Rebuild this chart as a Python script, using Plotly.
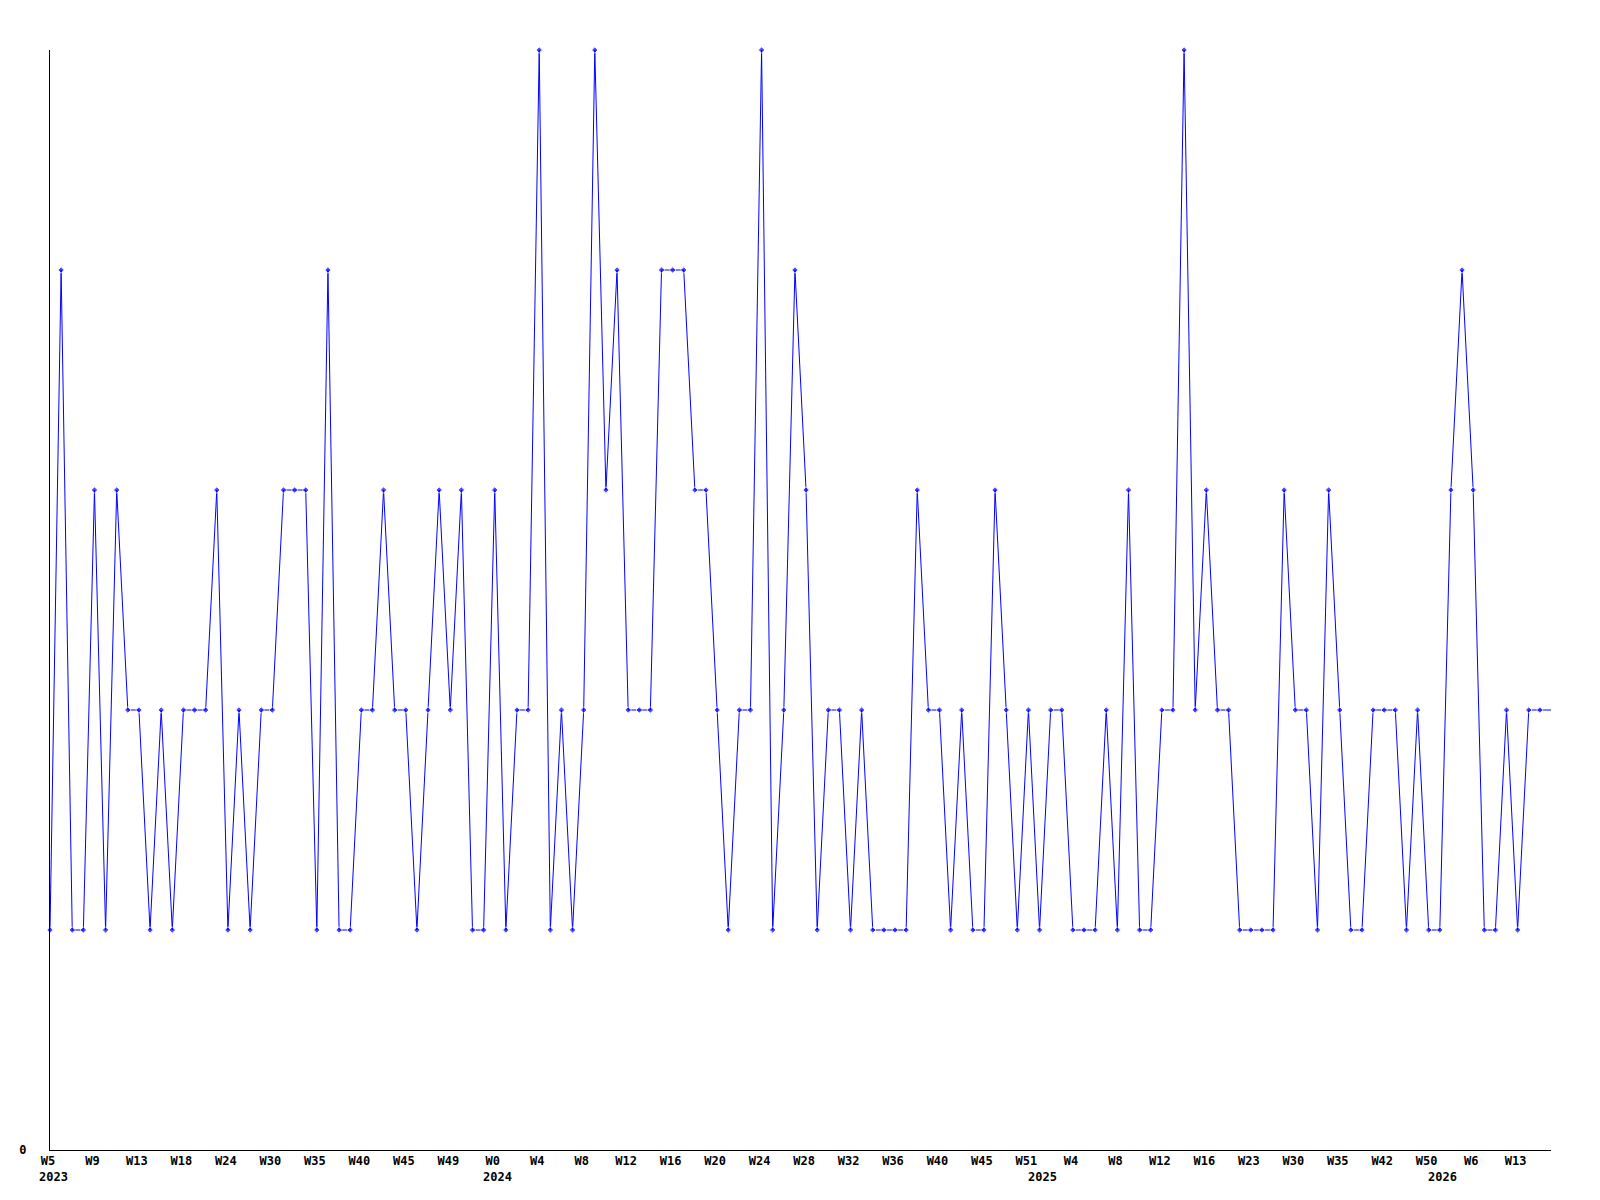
import plotly.graph_objects as go

# Data values (one per period, plotted evenly as categories)
values = [
    1, 4, 1, 1, 3, 1, 3, 2, 2, 1,
    2, 1, 2, 2, 2, 3, 1, 2, 1, 2,
    2, 3, 3, 3, 1, 4, 1, 1, 2, 2,
    3, 2, 2, 1, 2, 3, 2, 3, 1, 1,
    3, 1, 2, 2, 5, 1, 2, 1, 2, 5,
    3, 4, 2, 2, 2, 4, 4, 4, 3, 3,
    2, 1, 2, 2, 5, 1, 2, 4, 3, 1,
    2, 2, 1, 2, 1, 1, 1, 1, 3, 2,
    2, 1, 2, 1, 1, 3, 2, 1, 2, 1,
    2, 2, 1, 1, 1, 2, 1, 3, 1, 1,
    2, 2, 5, 2, 3, 2, 2, 1, 1, 1,
    1, 3, 2, 2, 1, 3, 2, 1, 1, 2,
    2, 2, 1, 2, 1, 1, 3, 4, 3, 1,
    1, 2, 1, 2, 2, 2,
]

# Week tick labels (every 4th point)
week_labels = ["W5", "W9", "W13", "W18", "W24", "W30", "W35", "W40", "W45", "W49",
               "W0", "W4", "W8", "W12", "W16", "W20", "W24", "W28", "W32", "W36",
               "W40", "W45", "W51", "W4", "W8", "W12", "W16", "W23", "W30", "W35",
               "W42", "W50", "W6", "W13"]
tick_step = 4

# Year labels and the category index where each year begins
year_labels = ["2023", "2024", "2025", "2026"]
year_start_index = [0, 40, 89, 125]

x = list(range(len(values)))
tickvals = list(range(0, len(week_labels) * tick_step, tick_step))

marker_sizes = [5] * (len(values) - 1) + [0]

FONT = dict(family="DejaVu Sans Mono", size=12, color="black", weight="bold")

fig = go.Figure()
fig.add_trace(go.Scatter(
    x=x, y=values, mode="lines+markers",
    line=dict(color="#0000ff", width=1),
    marker=dict(symbol="diamond", size=marker_sizes, color="#0000ff"),
    cliponaxis=False,
    showlegend=False,
))

for lab, idx in zip(year_labels, year_start_index):
    fig.add_annotation(
        x=idx, y=0, xref="x", yref="paper",
        text=lab, showarrow=False, font=FONT,
        xanchor="center", yanchor="middle", xshift=3, yshift=-27,
    )

fig.update_layout(
    width=1600, height=1200,
    margin=dict(l=42, r=57, t=42, b=58),
    paper_bgcolor="white", plot_bgcolor="white",
    font=FONT,
)
fig.update_xaxes(
    range=[0, len(values) - 1], showgrid=False, zeroline=False,
    showline=True, linecolor="black", linewidth=1,
    tickmode="array", tickvals=tickvals, ticktext=week_labels,
    ticks="", tickfont=FONT, ticklabelshift=-2,
)
fig.update_yaxes(
    range=[0, 5], showgrid=False, zeroline=False,
    showline=True, linecolor="black", linewidth=1,
    tickmode="array", tickvals=[0], ticktext=["0"],
    ticks="", tickfont=FONT, ticklabelstandoff=20,
)

fig.write_html("out.html")
